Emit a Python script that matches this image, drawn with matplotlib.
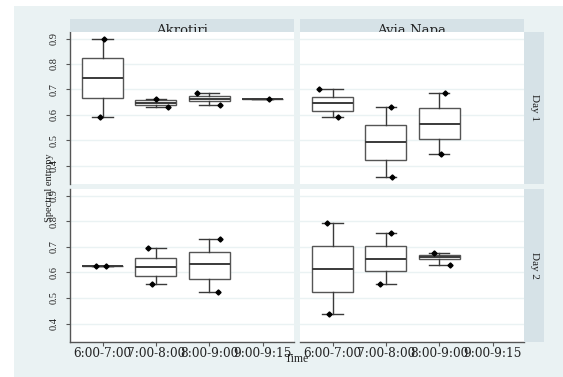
import matplotlib.pyplot as plt
from matplotlib.patches import Rectangle

W, H = 563, 377

times = ["6:00-7:00", "7:00-8:00", "8:00-9:00", "9:00-9:15"]
sites = ["Akrotiri", "Avia Napa"]
days = ["Day 1", "Day 2"]
yticks = [0.4, 0.5, 0.6, 0.7, 0.8, 0.9]

# box stats (None = no data for that hour)
akr_d1_lo = [0.590, 0.629, 0.637, 0.663]
akr_d1_q1 = [0.666, 0.639, 0.653, 0.663]
akr_d1_med = [0.744, 0.647, 0.664, 0.663]
akr_d1_q3 = [0.822, 0.657, 0.675, 0.663]
akr_d1_hi = [0.897, 0.663, 0.687, 0.663]

ayn_d1_lo = [0.590, 0.355, 0.445, None]
ayn_d1_q1 = [0.617, 0.421, 0.504, None]
ayn_d1_med = [0.646, 0.492, 0.565, None]
ayn_d1_q3 = [0.672, 0.559, 0.627, None]
ayn_d1_hi = [0.702, 0.629, 0.687, None]

akr_d2_lo = [0.626, 0.553, 0.525, None]
akr_d2_q1 = [0.626, 0.587, 0.575, None]
akr_d2_med = [0.626, 0.623, 0.631, None]
akr_d2_q3 = [0.626, 0.658, 0.681, None]
akr_d2_hi = [0.626, 0.695, 0.732, None]

ayn_d2_lo = [0.437, 0.553, 0.629, None]
ayn_d2_q1 = [0.524, 0.604, 0.652, None]
ayn_d2_med = [0.614, 0.652, 0.661, None]
ayn_d2_q3 = [0.702, 0.702, 0.669, None]
ayn_d2_hi = [0.792, 0.754, 0.676, None]

# horizontal jitter of the min / max dots (None = no dot)
akr_d1_hi_jit = [0.03, 0.0, -0.22, 0.125]
akr_d1_lo_jit = [-0.05, 0.22, 0.21, None]
ayn_d1_hi_jit = [-0.26, 0.09, 0.11, None]
ayn_d1_lo_jit = [0.11, 0.11, 0.03, None]
akr_d2_hi_jit = [0.07, -0.14, 0.2, None]
akr_d2_lo_jit = [-0.12, -0.08, 0.17, None]
ayn_d2_hi_jit = [-0.11, 0.09, -0.09, None]
ayn_d2_lo_jit = [-0.06, -0.11, 0.21, None]

panels = [
    (0, 0, akr_d1_lo, akr_d1_q1, akr_d1_med, akr_d1_q3, akr_d1_hi, akr_d1_hi_jit, akr_d1_lo_jit),
    (0, 1, ayn_d1_lo, ayn_d1_q1, ayn_d1_med, ayn_d1_q3, ayn_d1_hi, ayn_d1_hi_jit, ayn_d1_lo_jit),
    (1, 0, akr_d2_lo, akr_d2_q1, akr_d2_med, akr_d2_q3, akr_d2_hi, akr_d2_hi_jit, akr_d2_lo_jit),
    (1, 1, ayn_d2_lo, ayn_d2_q1, ayn_d2_med, ayn_d2_q3, ayn_d2_hi, ayn_d2_hi_jit, ayn_d2_lo_jit),
]

outer = '#EAF2F3'
strip = '#D6E2E7'
dark = '#3a3a3a'
serif = 'Liberation Serif'
wide = 'DejaVu Serif'


def rect(x, y, w, h):
    return [x / W, 1 - (y + h) / H, w / W, h / H]


fig = plt.figure(figsize=(W / 100, H / 100), dpi=100, facecolor='white')
fig.patches.append(Rectangle((14 / W, 0), 1, 1 - 6 / H, transform=fig.transFigure,
                             facecolor=outer, edgecolor='none', zorder=-10))

col_x = [70, 300]
row_y = [(32, 152), (189, 153)]

for r, c, lo, q1, med, q3, hi, hj, lj in panels:
    y0, h = row_y[r]
    ax = fig.add_axes(rect(col_x[c], y0, 224, h))
    ax.set_facecolor('white')
    stats, pos = [], []
    for i in range(len(times)):
        if med[i] is None:
            continue
        stats.append(dict(whislo=lo[i], q1=q1[i], med=med[i], q3=q3[i], whishi=hi[i], fliers=[]))
        pos.append(i + 1)
    ax.bxp(stats, positions=pos, widths=0.77, capwidths=0.38, showfliers=False,
           patch_artist=True,
           boxprops=dict(facecolor='white', edgecolor='#555555', linewidth=1.0),
           medianprops=dict(color=dark, linewidth=1.4),
           whiskerprops=dict(color=dark, linewidth=1.0),
           capprops=dict(color=dark, linewidth=1.0), zorder=3)
    for i in range(len(times)):
        if hj[i] is not None:
            ax.plot(i + 1 + hj[i], hi[i], 'D', color='black', ms=2.6, zorder=4)
        if lj[i] is not None:
            ax.plot(i + 1 + lj[i], lo[i], 'D', color='black', ms=2.6, zorder=4)

    ax.set_xlim(0.39, 4.59)
    ax.set_ylim(0.328, 0.926)
    ax.set_yticks(yticks)
    ax.yaxis.grid(True, color=outer, linewidth=1.0)
    ax.set_axisbelow(True)
    for s in ['top', 'right']:
        ax.spines[s].set_visible(False)
    ax.spines['left'].set_visible(c == 0)
    ax.spines['bottom'].set_visible(r == 1)
    for s in ['left', 'bottom']:
        ax.spines[s].set_color('#555555')
        ax.spines[s].set_linewidth(1.0)

    ax.set_xticks(range(1, len(times) + 1))
    if r == 1:
        ax.set_xticklabels(times, fontfamily=wide, fontsize=8.7, color='#222222')
        ax.tick_params(axis='x', length=3, width=0.8, color='#555555', pad=0.5)
    else:
        ax.tick_params(axis='x', length=0, labelbottom=False)
    if c == 0:
        ax.set_yticklabels([f'{v:.1f}' for v in yticks], rotation=90, va='center',
                           fontfamily=serif, fontsize=7.5, color='#222222')
        ax.tick_params(axis='y', length=3, width=0.8, color='#555555', pad=5)
    else:
        ax.tick_params(axis='y', length=0, labelleft=False)

    # top strip with site name
    if r == 0:
        sa = fig.add_axes(rect(col_x[c], 19, 224, 13))
        sa.set_facecolor(strip)
        sa.set_xticks([])
        sa.set_yticks([])
        for s in sa.spines.values():
            s.set_visible(False)
        sa.text(0.5, -0.12, sites[c], ha='center', va='baseline', fontfamily=wide,
                fontsize=9.5, color='#222222', transform=sa.transAxes, clip_on=True)

    # right strip with day
    if c == 1:
        da = fig.add_axes(rect(524, y0, 20, h))
        da.set_facecolor(strip)
        da.set_xticks([])
        da.set_yticks([])
        for s in da.spines.values():
            s.set_visible(False)
        da.text(0.55, 0.5, days[r], rotation=270, ha='center', va='center',
                fontfamily=serif, fontsize=8, color='#222222', transform=da.transAxes)

fig.text(49 / W, 1 - 188 / H, 'Spectral entropy', rotation=90, ha='center', va='center',
         fontfamily=serif, fontsize=7.5, color='#222222')
fig.text(297 / W, 1 - 359 / H, 'Time', ha='center', va='center',
         fontfamily=serif, fontsize=8.5, color='#222222')

fig.savefig('out.png', dpi=100, facecolor='white')
